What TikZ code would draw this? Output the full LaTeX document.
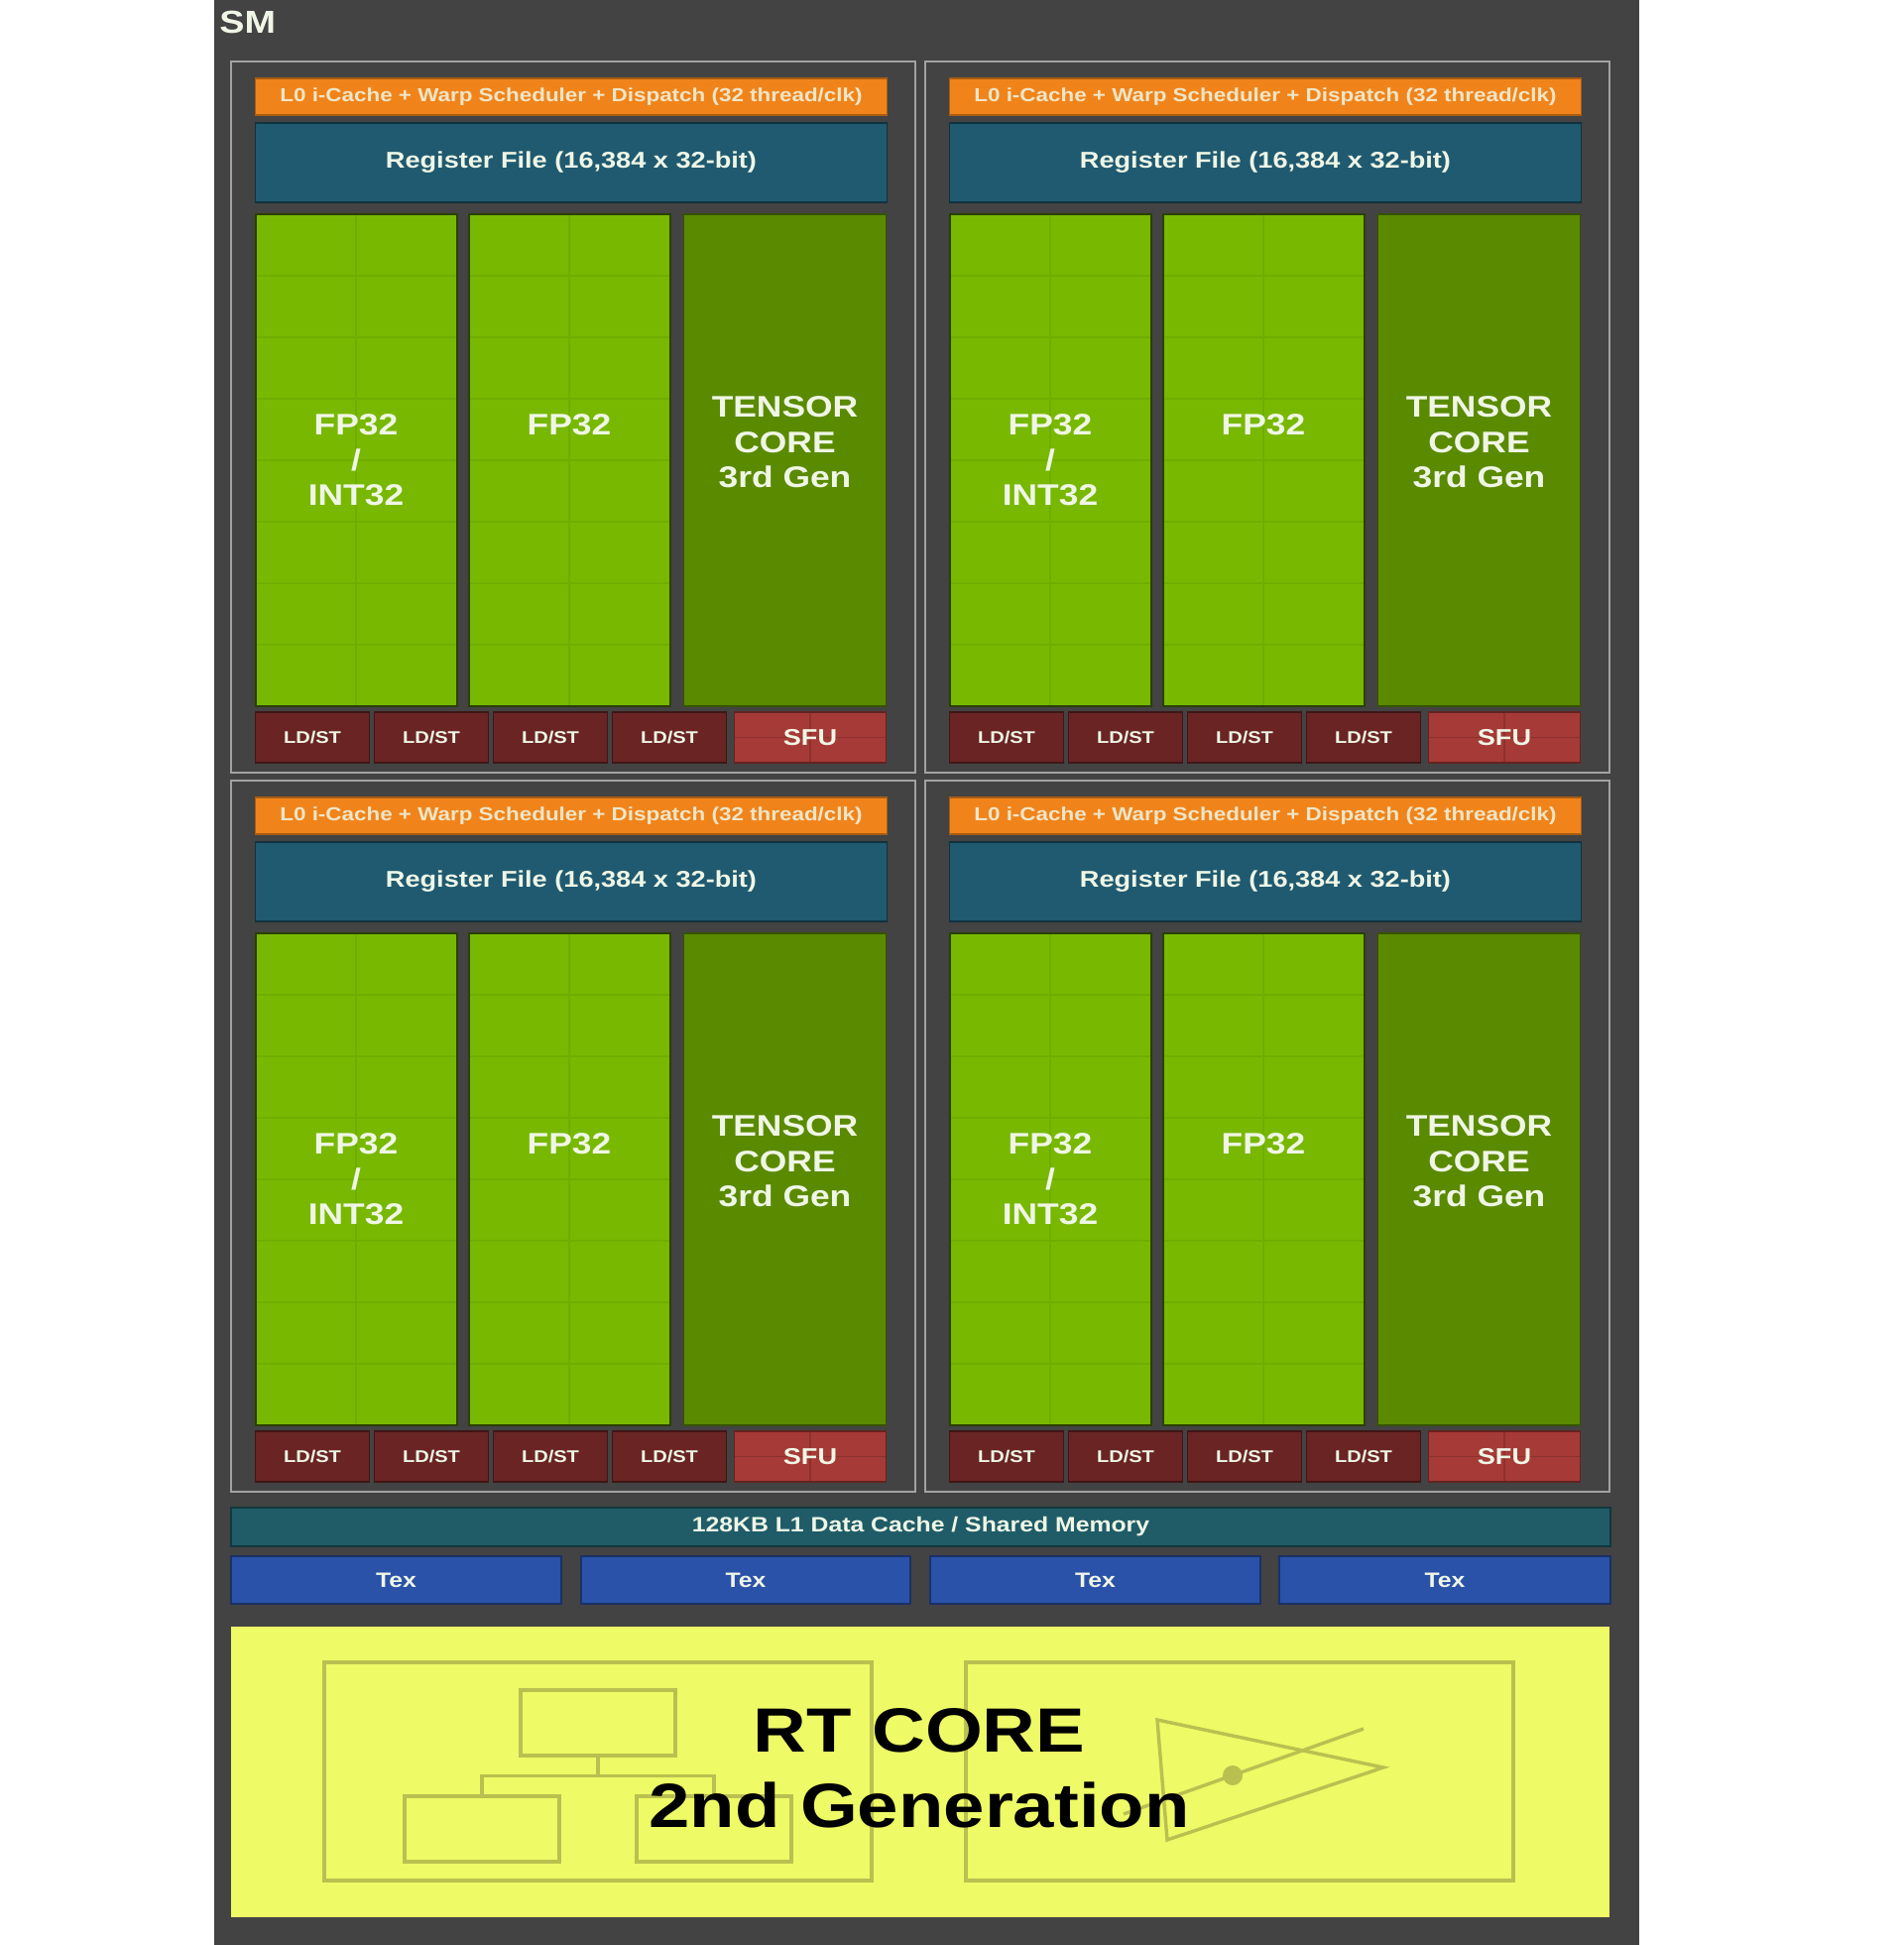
\documentclass[tikz,border=0pt]{standalone}
\usepackage{fontspec}
\setmainfont{Liberation Sans}[FakeStretch=1.18]
\usepackage{xcolor}
\usetikzlibrary{positioning,calc}
\definecolor{smpanel}{HTML}{434343}
\definecolor{smframe}{HTML}{A2A2A2}
\definecolor{smorange}{HTML}{F0841A}
\definecolor{smregister}{HTML}{1F5A70}
\definecolor{smgreen}{HTML}{78B800}
\definecolor{smgrid}{HTML}{6FAE00}
\definecolor{smtensor}{HTML}{5A8A00}
\definecolor{smldst}{HTML}{6A2424}
\definecolor{smsfu}{HTML}{A63A36}
\definecolor{smcache}{HTML}{1F5C68}
\definecolor{smtex}{HTML}{2A52A8}
\definecolor{smyellow}{HTML}{EEFA66}
\definecolor{smline}{HTML}{BAC050}
\definecolor{smtext}{HTML}{EFF6E6}
\tikzset{
  unitbox/.style={rectangle,outer sep=0pt,inner sep=0pt,align=center,text=smtext,line width=0.8pt},
  frame/.style={rectangle,outer sep=0pt,draw=smframe,line width=1.4pt,minimum width=345pt,minimum height=358.5pt},
  cachebar/.style={unitbox,fill=smorange,draw=smorange!70!black,minimum width=318.5pt,minimum height=18.5pt,font=\fontsize{9.5}{11}\selectfont\bfseries,text=smtext!85!smorange},
  regfile/.style={unitbox,fill=smregister,draw=smregister!55!black,minimum width=318.5pt,minimum height=40pt,font=\fontsize{11.5}{13}\selectfont\bfseries},
  fpunit/.style={unitbox,fill=smgreen,draw=smgreen!35!black,line width=1pt,minimum width=101.5pt,minimum height=248pt,font=\fontsize{15}{17.8}\selectfont\bfseries,
    path picture={
      \foreach \f in {1,...,7}
        \draw[smgrid,line width=0.7pt] ($(path picture bounding box.north west)!\f/8!(path picture bounding box.south west)$) -- ($(path picture bounding box.north east)!\f/8!(path picture bounding box.south east)$);
      \draw[smgrid,line width=0.7pt] (path picture bounding box.north) -- (path picture bounding box.south);
    }},
  tensor/.style={unitbox,fill=smtensor,draw=smtensor!60!black,minimum width=102pt,minimum height=248pt,font=\fontsize{15}{17.8}\selectfont\bfseries},
  ldst/.style={unitbox,fill=smldst,draw=smldst!60!black,minimum width=57.5pt,minimum height=25.5pt,font=\fontsize{8.5}{10}\selectfont\bfseries},
  sfu/.style={unitbox,fill=smsfu,draw=smsfu!60!black,minimum width=76.5pt,minimum height=25.5pt,font=\fontsize{11.5}{13}\selectfont\bfseries,
    path picture={
      \draw[smsfu!85!black,line width=0.6pt] (path picture bounding box.north) -- (path picture bounding box.south);
      \draw[smsfu!85!black,line width=0.6pt] (path picture bounding box.west) -- (path picture bounding box.east);
    }},
  datacache/.style={unitbox,fill=smcache,draw=smcache!60!black,minimum width=695.5pt,minimum height=19.5pt,font=\fontsize{10.5}{12}\selectfont\bfseries},
  texunit/.style={unitbox,fill=smtex,draw=smtex!60!black,minimum height=24pt,font=\fontsize{10.5}{12}\selectfont\bfseries},
  rtline/.style={draw=smline,line width=1.7pt},
  rtbox/.style={rectangle,outer sep=0pt,rtline},
  rttree/.style={rtbox,minimum width=78pt,minimum height=33pt}
}
\begin{document}
\begin{tikzpicture}[x=0.5pt,y=-0.5pt]
\useasboundingbox (0,0) rectangle (1920,1961);
\node[rectangle,outer sep=0pt,fill=smpanel,minimum width=718.5pt,minimum height=980.5pt,anchor=north west] (sm) at (215.5,0) {};
\node[font=\fontsize{16}{16}\selectfont\bfseries,text=smtext,inner sep=0pt,anchor=north west] (smlabel) at (221,11) {SM};
% four identical blocks
\foreach \b/\x/\y in {a/233/62,b/933/62,c/233/787,d/933/787}{
  \node[frame,anchor=north west] (frame\b) at (\x,\y) {};
  \node[cachebar,below=8.5pt of frame\b.north,xshift=-1pt] (cache\b) {L0 i-Cache + Warp Scheduler + Dispatch (32 thread/clk)};
  \node[regfile,below=4pt of cache\b] (reg\b) {Register File (16,384 x 32-bit)};
  \node[fpunit,below right=6pt and 0pt of reg\b.south west] (fpa\b) {FP32\\/\\INT32};
  \node[fpunit,right=6pt of fpa\b] (fpb\b) {FP32\\\phantom{/}\\\phantom{INT32}};
  \node[tensor,right=7pt of fpb\b] (core\b) {TENSOR\\CORE\\3rd Gen\\\phantom{/}};
  \node[ldst,below right=3pt and 0pt of fpa\b.south west] (lsa\b) {LD/ST};
  \node[ldst,right=2.5pt of lsa\b] (lsb\b) {LD/ST};
  \node[ldst,right=2.5pt of lsb\b] (lsc\b) {LD/ST};
  \node[ldst,right=2.5pt of lsc\b] (lsd\b) {LD/ST};
  \node[sfu,right=4pt of lsd\b] (sfu\b) {SFU};
}
\node[datacache,below right=8pt and 0pt of framec.south west] (l1) {128KB L1 Data Cache / Shared Memory};
\node[texunit,minimum width=166.5pt,below right=5pt and 0pt of l1.south west] (texa) {Tex};
\node[texunit,minimum width=166pt,right=10pt of texa] (texb) {Tex};
\node[texunit,minimum width=166.5pt,right=10pt of texb] (texc) {Tex};
\node[texunit,minimum width=167pt,right=9.5pt of texc] (texd) {Tex};
\node[rectangle,outer sep=0pt,fill=smyellow,minimum width=695pt,minimum height=146.5pt,below right=11.5pt and 0pt of texa.south west] (rt) {};
\node[rtbox,minimum width=276pt,minimum height=110pt,below right=18pt and 47pt of rt.north west] (rtleft) {};
\node[rtbox,minimum width=276pt,minimum height=110pt,right=47.5pt of rtleft] (rtright) {};
% tree in the left box
\node[rttree,below=14pt of rtleft.north] (treetop) {};
\node[rttree,below left=20.5pt and 19.5pt of treetop.south] (treeleft) {};
\node[rttree,below right=20.5pt and 19.5pt of treetop.south] (treeright) {};
\coordinate (treemid) at ($(treetop.south)!.5!(treeleft.north -| treetop.south)$);
\draw[rtline] (treetop.south) -- (treemid);
\draw[rtline] (treeleft.north) |- (treemid) -| (treeright.north);
% triangle and ray in the right box
\coordinate (tria) at (1167,1734);
\coordinate (trib) at (1395,1782);
\coordinate (tric) at (1177,1855);
\coordinate (rayend) at (1375,1743);
\coordinate (raystart) at (1133,1829);
\draw[rtline] (tria) -- (trib) -- (tric) -- cycle;
\draw[rtline] (raystart) -- (rayend);
\node[circle,fill=smline,inner sep=0pt,minimum size=10pt] (raydot) at (1243,1790) {};
\node[font=\fontsize{31.5}{38}\selectfont\bfseries,text=black,align=center,inner sep=0pt] (rttext) at (927,1783) {RT CORE\\2nd Generation};
\end{tikzpicture}
\end{document}
